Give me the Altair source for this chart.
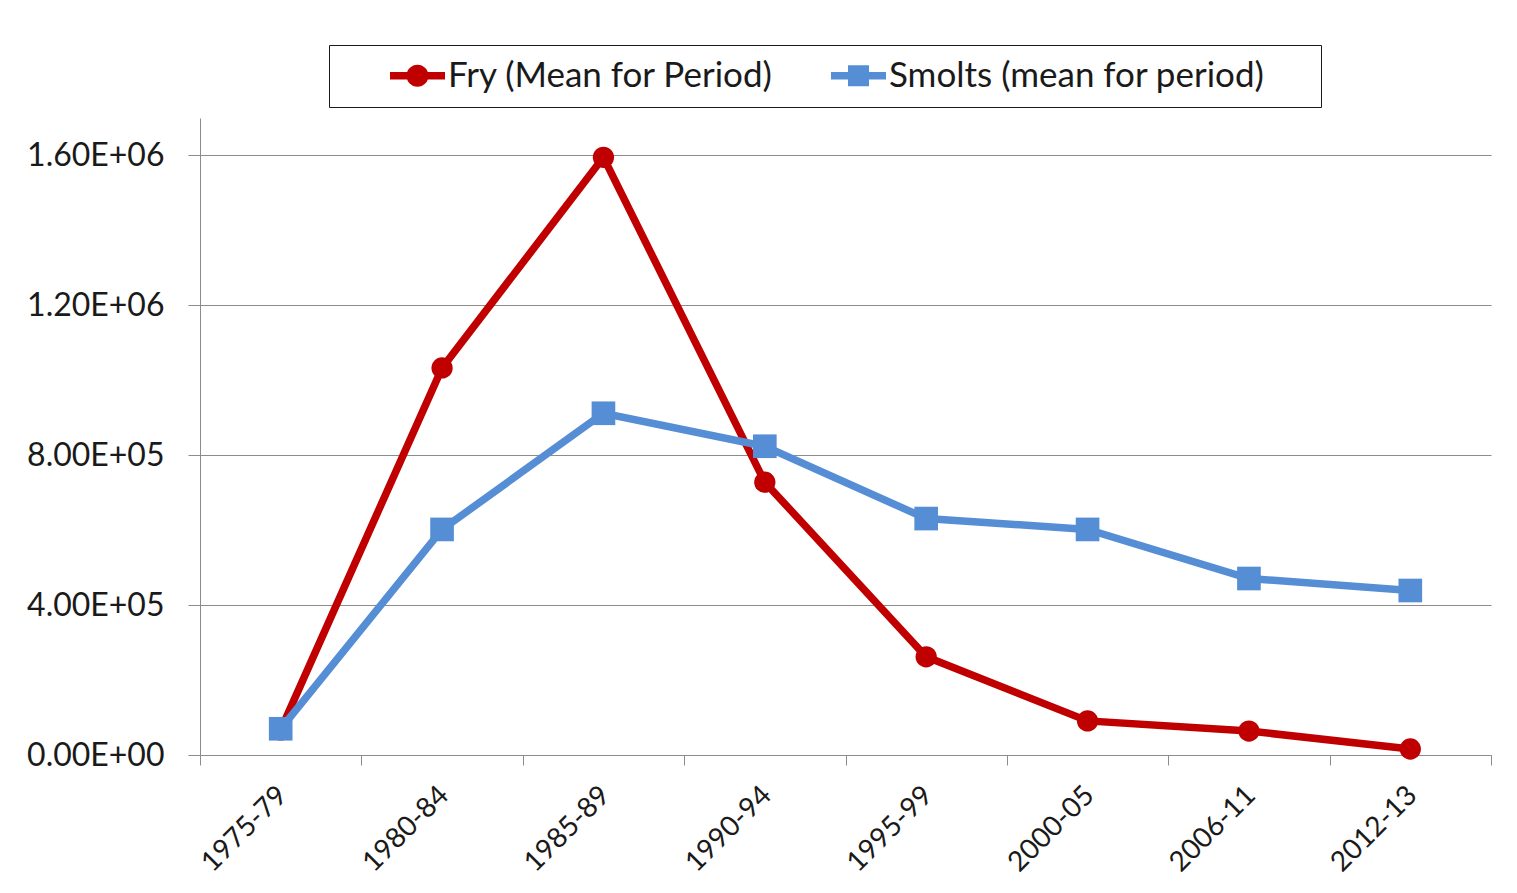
import altair as alt
import pandas as pd

periods = ["1975-79", "1980-84", "1985-89", "1990-94", "1995-99", "2000-05", "2006-11", "2012-13"]
fry = [67000, 1033000, 1595000, 728000, 262000, 91000, 64000, 16000]
smolts = [70000, 602000, 912000, 824000, 631000, 602000, 471000, 439000]
series_names = ["Fry (Mean for Period)", "Smolts (mean for period)"]
series_colors = ["#C00000", "#558ED5"]
y_ticks = [0, 400000, 800000, 1200000, 1600000]

rows = []
for p, v in zip(periods, fry):
    rows.append({"period": p, "series": series_names[0], "value": v})
for p, v in zip(periods, smolts):
    rows.append({"period": p, "series": series_names[1], "value": v})
df = pd.DataFrame(rows)

FONT = "Lato"
GRID = "#8c8c8c"
TEXT = "#1a1a1a"

fry_path = "M-2.75,-0.38H2.75V0.38H-2.75Z M1.1,0A1.1,1.1 0 1,1 -1.1,0A1.1,1.1 0 1,1 1.1,0Z"
sq_path = "M-2.75,-0.38H2.75V0.38H-2.75Z M-1.05,-1.05H1.05V1.05H-1.05Z"

x_enc = alt.X(
    "period:N",
    sort=periods,
    scale=alt.Scale(type="band", paddingInner=0, paddingOuter=0),
    axis=alt.Axis(
        title=None, labelAngle=-45, tickBand="extent", grid=False,
        tickSize=10, tickColor=GRID, domainColor=GRID, labelFont=FONT,
        labelFontSize=28, labelColor=TEXT, labelPadding=16, labelOffset=-8,
    ),
)
y_enc = alt.Y(
    "value:Q",
    scale=alt.Scale(domain=[0, 1700000], nice=False),
    axis=alt.Axis(
        title=None, values=y_ticks, grid=True, gridColor=GRID, gridWidth=1.2,
        tickColor=GRID, tickSize=12, domainColor=GRID,
        labelExpr="replace(upper(format(datum.value, '.2e')), 'E+', 'E+0')",
        labelFont=FONT, labelFontSize=32, labelColor=TEXT, labelPadding=24,
    ),
)

base = alt.Chart(df)
layers = []
for name, col in zip(series_names, series_colors):
    sub = base.transform_filter(alt.datum.series == name)
    layers.append(sub.mark_line(strokeWidth=7.5, color=col).encode(x=x_enc, y=y_enc))
for name, col, shp, sz in zip(series_names, series_colors, ["circle", "square"], [452, 560]):
    sub = base.transform_filter(alt.datum.series == name)
    layers.append(sub.mark_point(filled=True, opacity=1, color=col, shape=shp, size=sz).encode(x=x_enc, y=y_enc))

legend_props = dict(
    title=".", titleOrient="right", titleFontSize=8, titleOpacity=0, titlePadding=40,
    orient="none", legendX=129, legendY=-73, direction="horizontal",
    labelFont=FONT, labelFontSize=35, labelColor=TEXT, labelLimit=0,
    symbolSize=400, symbolOffset=58, labelOffset=13, columnPadding=9, padding=13,
    strokeColor=TEXT, fillColor="white", symbolOpacity=1, symbolStrokeWidth=0,
)

legend_layer = base.transform_filter("false").mark_point(filled=True, opacity=1, size=400).encode(
    x=x_enc,
    y=y_enc,
    color=alt.Color(
        "series:N",
        scale=alt.Scale(domain=series_names, range=series_colors),
        legend=alt.Legend(**legend_props),
    ),
    shape=alt.Shape(
        "series:N",
        scale=alt.Scale(domain=series_names, range=[fry_path, sq_path]),
        legend=alt.Legend(**legend_props),
    ),
)
layers.append(legend_layer)

chart = alt.layer(*layers).properties(
    width=1291, height=637,
    padding={"left": 192, "top": 110, "right": 10, "bottom": 128},
    autosize=alt.AutoSizeParams(type="none"),
    background="white",
).configure_view(stroke=None)

chart.save("out.html", embed_options={"renderer": "svg", "actions": False})
